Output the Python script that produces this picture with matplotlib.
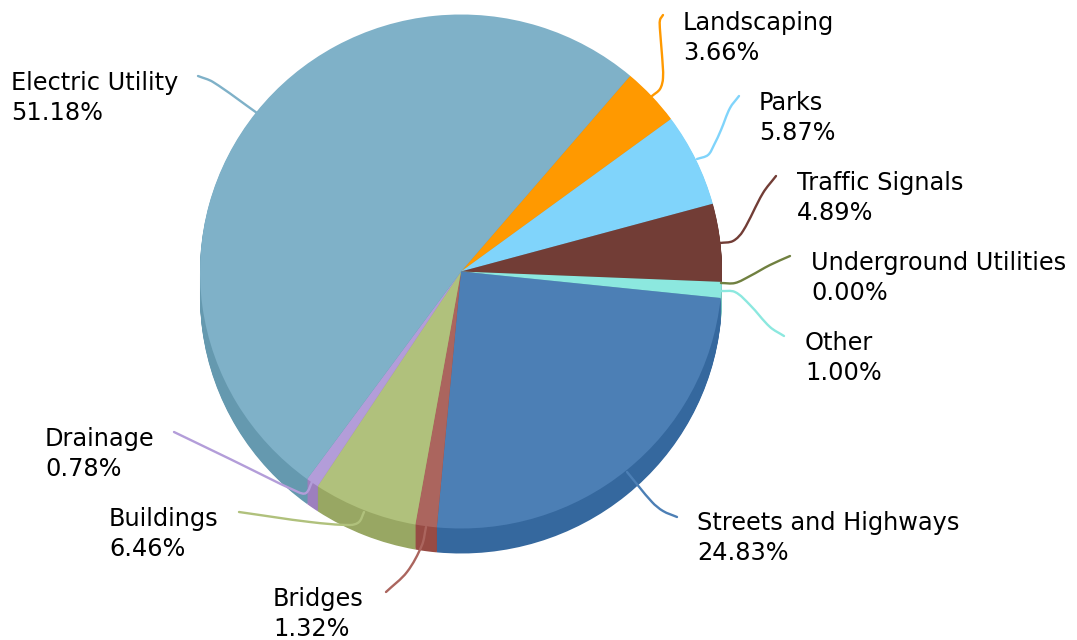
import matplotlib
matplotlib.use("Agg")
import math
import matplotlib.pyplot as plt
from matplotlib.path import Path
from matplotlib.patches import PathPatch

# ---- data -----------------------------------------------------------
categories = ["Landscaping", "Parks", "Traffic Signals", "Underground Utilities", "Other",
              "Streets and Highways", "Bridges", "Buildings", "Drainage", "Electric Utility"]
shares = [3.66, 5.87, 4.89, 0.00, 1.00, 24.83, 1.32, 6.46, 0.78, 51.18]

# ---- styles ---------------------------------------------------------
top_colors = ["#FF9900", "#80D4FB", "#723D36", "#708040", "#8CE8DF",
              "#4C7FB5", "#AB655E", "#B0C17C", "#B39DD9", "#7FB1C8"]
wall_colors = ["#D98200", "#6DB4D5", "#61342E", "#5F6D36", "#77C5BE",
               "#35689E", "#974B44", "#98A763", "#9D7FBE", "#6599AF"]

# ---- layout (pixels of the reference) -------------------------------
W, H = 1077, 640
CX, CY, RX, RY, DEPTH = 461, 271.5, 261, 257, 25
START = 49.6
SY = RX / RY

label_pos = {
    "Landscaping": (683, 60), "Parks": (759, 140), "Traffic Signals": (797, 220),
    "Underground Utilities": (811, 300), "Other": (805, 380),
    "Streets and Highways": (697, 560), "Bridges": (273, 636), "Buildings": (109, 556),
    "Drainage": (45, 476), "Electric Utility": (11, 120),
}
leaders = {
    "Landscaping": [(652, 96), (660, 89), (663, 78), (662, 55), (660, 30), (660, 20), (663, 15)],
    "Parks": [(697, 159), (708, 155), (714, 145), (721, 130), (730, 108), (739, 96)],
    "Traffic Signals": [(720, 243), (733, 241), (743, 231), (763, 193), (776, 176)],
    "Underground Utilities": [(721, 283), (735, 283), (750, 276), (770, 265), (790, 256)],
    "Other": [(721, 291), (735, 292), (750, 305), (770, 327), (784, 336)],
    "Streets and Highways": [(627, 472), (652, 502), (663, 511), (677, 517)],
    "Bridges": [(426, 527), (422, 545), (407, 572), (386, 592)],
    "Buildings": [(364, 512), (359, 522), (350, 525), (310, 522), (239, 512)],
    "Drainage": [(312, 482), (306, 493), (298, 492), (230, 459), (174, 432)],
    "Electric Utility": [(257, 113), (213, 82), (198, 76)],
}


def py(y):
    """Pixel row to data y; the y scale squeezes the pie into an ellipse."""
    return (H - y) * SY


def smooth_path(pts):
    """Chord-scaled Catmull-Rom curve through pts, as cubic Bezier segments."""
    p = [(x, py(y)) for x, y in pts]

    def tangent(i):
        a, b = p[max(i - 1, 0)], p[min(i + 1, len(p) - 1)]
        n = math.hypot(b[0] - a[0], b[1] - a[1])
        return (b[0] - a[0]) / n, (b[1] - a[1]) / n

    verts, codes = [p[0]], [Path.MOVETO]
    for i in range(len(p) - 1):
        p1, p2 = p[i], p[i + 1]
        s = math.hypot(p2[0] - p1[0], p2[1] - p1[1]) / 3
        t1, t2 = tangent(i), tangent(i + 1)
        verts += [(p1[0] + t1[0] * s, p1[1] + t1[1] * s),
                  (p2[0] - t2[0] * s, p2[1] - t2[1] * s), p2]
        codes += [Path.CURVE4] * 3
    return Path(verts, codes)


fig = plt.figure(figsize=(W / 100, H / 100), dpi=100, facecolor="white")
ax = fig.add_axes([0, 0, 1, 1])

pie_kw = dict(radius=RX, startangle=START, counterclock=False, normalize=True,
              wedgeprops=dict(linewidth=0))
for d in range(DEPTH, 0, -1):
    ax.pie(shares, colors=wall_colors, center=(CX, py(CY + d)), **pie_kw)
ax.pie(shares, colors=top_colors, center=(CX, py(CY)), **pie_kw)

ax.set_aspect("auto")
ax.set_xlim(0, W)
ax.set_ylim(0, H * SY)
ax.axis("off")

for name, share, color in zip(categories, shares, top_colors):
    ax.add_patch(PathPatch(smooth_path(leaders[name]), fill=False, edgecolor=color,
                           linewidth=1.7, capstyle="round", zorder=5))
    x, y = label_pos[name]
    ax.text(x, py(y), f"{name}\n{share:.2f}%", fontsize=17.3, color="black",
            family="DejaVu Sans", ha="left", va="baseline", linespacing=1.31, zorder=6)

fig.savefig("out.png", dpi=100, facecolor="white")
